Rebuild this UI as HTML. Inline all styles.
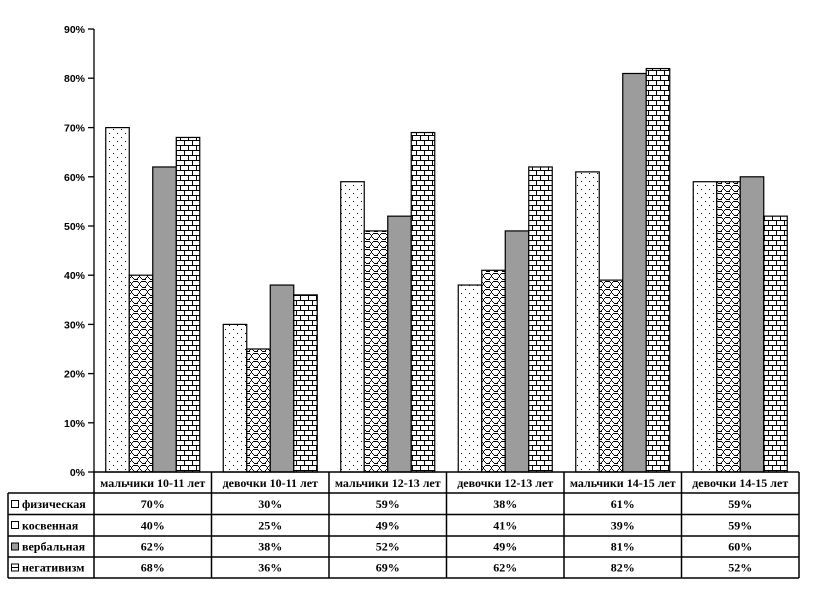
<!DOCTYPE html>
<html><head><meta charset="utf-8"><style>
html,body{margin:0;padding:0;background:#fff;}
svg{display:block;}
.ax{font-family:"Liberation Sans",sans-serif;font-weight:bold;font-size:10.5px;}
.tb{font-family:"Liberation Serif",serif;font-weight:bold;font-size:12px;}
</style></head><body>
<svg width="818" height="600" viewBox="0 0 818 600" xmlns="http://www.w3.org/2000/svg">
<defs>
<pattern id="pDots" patternUnits="userSpaceOnUse" width="8" height="8">
<rect width="8" height="8" fill="#fff"/>
<rect x="1" y="1" width="1" height="1" fill="#000"/>
<rect x="5" y="5" width="1" height="1" fill="#000"/>
</pattern>
<pattern id="pWave" patternUnits="userSpaceOnUse" width="8" height="8">
<rect width="8" height="8" fill="#fff"/>
<g fill="#000" shape-rendering="crispEdges">
<rect x="0" y="1" width="2" height="1"/>
<rect x="2" y="2" width="1" height="1"/>
<rect x="3" y="3" width="1" height="2"/>
<rect x="4" y="2" width="1" height="1"/>
<rect x="5" y="1" width="3" height="1"/>
<rect x="4" y="5" width="1" height="1"/>
<rect x="5" y="6" width="1" height="1"/>
<rect x="6" y="7" width="2" height="1"/>
<rect x="2" y="5" width="1" height="1"/>
<rect x="0" y="7" width="2" height="1"/>
<rect x="1" y="6" width="1" height="1"/>
</g>
</pattern>
<pattern id="pBrick" patternUnits="userSpaceOnUse" width="8" height="10">
<rect width="8" height="10" fill="#fff"/>
<g fill="#000" shape-rendering="crispEdges">
<rect x="0" y="0" width="8" height="1"/>
<rect x="0" y="5" width="8" height="1"/>
<rect x="0" y="0" width="1" height="5"/>
<rect x="4" y="5" width="1" height="5"/>
</g>
</pattern>
</defs>

<!-- y axis -->
<g stroke="#000" stroke-width="1.3" fill="none">
<line x1="94" y1="29" x2="94" y2="472"/>
<line x1="88" y1="29.0" x2="94" y2="29.0"/>
<line x1="88" y1="78.2" x2="94" y2="78.2"/>
<line x1="88" y1="127.6" x2="94" y2="127.6"/>
<line x1="88" y1="176.8" x2="94" y2="176.8"/>
<line x1="88" y1="226.0" x2="94" y2="226.0"/>
<line x1="88" y1="275.2" x2="94" y2="275.2"/>
<line x1="88" y1="324.4" x2="94" y2="324.4"/>
<line x1="88" y1="373.6" x2="94" y2="373.6"/>
<line x1="88" y1="422.8" x2="94" y2="422.8"/>
<line x1="88" y1="472" x2="94" y2="472"/>
</g>
<g class="ax" text-anchor="end">
<text x="85" y="33">90%</text>
<text x="85" y="82.2">80%</text>
<text x="85" y="131.6">70%</text>
<text x="85" y="180.8">60%</text>
<text x="85" y="230">50%</text>
<text x="85" y="279.2">40%</text>
<text x="85" y="328.4">30%</text>
<text x="85" y="377.6">20%</text>
<text x="85" y="426.8">10%</text>
<text x="85" y="476">0%</text>
</g>

<!-- bars -->
<g stroke="#000" stroke-width="1.2">
<rect x="105.75" y="127.6" width="23.5" height="344.4" fill="url(#pDots)"/>
<rect x="129.25" y="275.2" width="23.5" height="196.8" fill="url(#pWave)"/>
<rect x="152.75" y="166.96" width="23.5" height="305.04" fill="#9c9c9c"/>
<rect x="176.25" y="137.44" width="23.5" height="334.56" fill="url(#pBrick)"/>

<rect x="223.25" y="324.4" width="23.5" height="147.6" fill="url(#pDots)"/>
<rect x="246.75" y="349" width="23.5" height="123" fill="url(#pWave)"/>
<rect x="270.25" y="285.04" width="23.5" height="186.96" fill="#9c9c9c"/>
<rect x="293.75" y="294.88" width="23.5" height="177.12" fill="url(#pBrick)"/>

<rect x="340.75" y="181.72" width="23.5" height="290.28" fill="url(#pDots)"/>
<rect x="364.25" y="230.92" width="23.5" height="241.08" fill="url(#pWave)"/>
<rect x="387.75" y="216.16" width="23.5" height="255.84" fill="#9c9c9c"/>
<rect x="411.25" y="132.52" width="23.5" height="339.48" fill="url(#pBrick)"/>

<rect x="458.25" y="285.04" width="23.5" height="186.96" fill="url(#pDots)"/>
<rect x="481.75" y="270.28" width="23.5" height="201.72" fill="url(#pWave)"/>
<rect x="505.25" y="230.92" width="23.5" height="241.08" fill="#9c9c9c"/>
<rect x="528.75" y="166.96" width="23.5" height="305.04" fill="url(#pBrick)"/>

<rect x="575.75" y="171.88" width="23.5" height="300.12" fill="url(#pDots)"/>
<rect x="599.25" y="280.12" width="23.5" height="191.88" fill="url(#pWave)"/>
<rect x="622.75" y="73.48" width="23.5" height="398.52" fill="#9c9c9c"/>
<rect x="646.25" y="68.56" width="23.5" height="403.44" fill="url(#pBrick)"/>

<rect x="693.25" y="181.72" width="23.5" height="290.28" fill="url(#pDots)"/>
<rect x="716.75" y="181.72" width="23.5" height="290.28" fill="url(#pWave)"/>
<rect x="740.25" y="176.8" width="23.5" height="295.2" fill="#9c9c9c"/>
<rect x="763.75" y="216.16" width="23.5" height="255.84" fill="url(#pBrick)"/>
</g>

<!-- table lines -->
<g stroke="#000" stroke-width="1.5" fill="none">
<line x1="94" y1="472" x2="799" y2="472"/>
<line x1="94" y1="493" x2="799" y2="493"/>
<line x1="8" y1="493" x2="8" y2="578"/>
<line x1="8" y1="493" x2="94" y2="493"/>
<line x1="8" y1="514.5" x2="799" y2="514.5"/>
<line x1="8" y1="536" x2="799" y2="536"/>
<line x1="8" y1="557" x2="799" y2="557"/>
<line x1="8" y1="578" x2="799" y2="578"/>
<line x1="94" y1="472" x2="94" y2="578"/>
<line x1="211.5" y1="472" x2="211.5" y2="578"/>
<line x1="329" y1="472" x2="329" y2="578"/>
<line x1="446.5" y1="472" x2="446.5" y2="578"/>
<line x1="564" y1="472" x2="564" y2="578"/>
<line x1="681.5" y1="472" x2="681.5" y2="578"/>
<line x1="799" y1="472" x2="799" y2="578"/>
</g>

<!-- legend keys -->
<g stroke="#000" stroke-width="1">
<rect x="11.5" y="500.5" width="7" height="7" fill="#fff"/>
<rect x="11.5" y="521.5" width="7" height="7" fill="#fff"/>
<rect x="11.5" y="543" width="7" height="7" fill="#9c9c9c"/>
<rect x="11.5" y="564" width="7" height="7" fill="#fff"/>
<line x1="11.5" y1="567.5" x2="18.5" y2="567.5"/>
</g>
<g class="tb">
<text x="22" y="508">физическая</text>
<text x="22" y="529.5">косвенная</text>
<text x="22" y="550.5">вербальная</text>
<text x="22" y="571.5">негативизм</text>
</g>

<!-- categories -->
<g class="tb" text-anchor="middle">
<text x="152.75" y="487">мальчики 10-11 лет</text>
<text x="270.25" y="487">девочки 10-11 лет</text>
<text x="387.75" y="487">мальчики 12-13 лет</text>
<text x="505.25" y="487">девочки 12-13 лет</text>
<text x="622.75" y="487">мальчики 14-15 лет</text>
<text x="740.25" y="487">девочки 14-15 лет</text>

<text x="152.75" y="508">70%</text>
<text x="270.25" y="508">30%</text>
<text x="387.75" y="508">59%</text>
<text x="505.25" y="508">38%</text>
<text x="622.75" y="508">61%</text>
<text x="740.25" y="508">59%</text>

<text x="152.75" y="529.5">40%</text>
<text x="270.25" y="529.5">25%</text>
<text x="387.75" y="529.5">49%</text>
<text x="505.25" y="529.5">41%</text>
<text x="622.75" y="529.5">39%</text>
<text x="740.25" y="529.5">59%</text>

<text x="152.75" y="550.5">62%</text>
<text x="270.25" y="550.5">38%</text>
<text x="387.75" y="550.5">52%</text>
<text x="505.25" y="550.5">49%</text>
<text x="622.75" y="550.5">81%</text>
<text x="740.25" y="550.5">60%</text>

<text x="152.75" y="571.5">68%</text>
<text x="270.25" y="571.5">36%</text>
<text x="387.75" y="571.5">69%</text>
<text x="505.25" y="571.5">62%</text>
<text x="622.75" y="571.5">82%</text>
<text x="740.25" y="571.5">52%</text>
</g>
</svg>
</body></html>
